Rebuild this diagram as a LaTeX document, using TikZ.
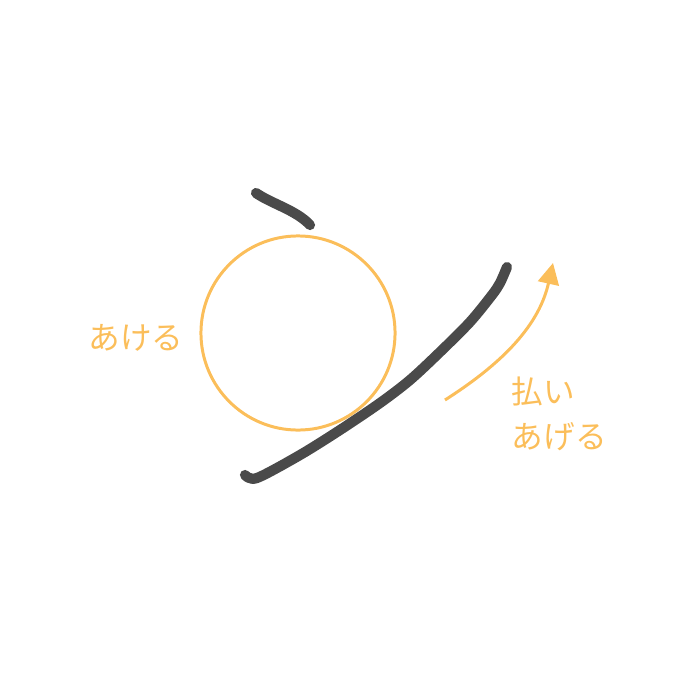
\documentclass[tikz,border=0pt]{standalone}
\usepackage{fontspec}
\newfontfamily\jpfont{Noto Sans CJK JP}
\usetikzlibrary{positioning,arrows.meta}
\definecolor{guide}{HTML}{FBBE5A}
\definecolor{ink}{HTML}{4A4A4A}

\begin{document}
\begin{tikzpicture}[x=0.01cm,y=-0.01cm,>={Triangle[length=6pt,width=6pt]},
  stroke/.style={draw=ink,line width=2.9pt,line cap=round,line join=round},
  label/.style={text=guide,font=\jpfont\fontsize{9}{12.8}\selectfont,inner sep=0pt,align=left}]
\useasboundingbox (0,0) rectangle (700,700);
\node[draw=guide,line width=0.85pt,circle,inner sep=0pt,minimum size=1.94cm] (hole) at (298,333) {};
% strokes
\draw[stroke] (256,193) .. controls (272,204) and (296,210) .. (310,225);
\draw[stroke] plot[smooth,tension=0.5] coordinates {(245,475) (257,478) (300,455) (340,430) (380,403) (410,380) (440,352) (470,322) (492,295) (500,283) (507,267)};
% sweep arrow
\coordinate (from) at (445,400);
\coordinate (to) at (553,263);
\draw[guide,line width=0.85pt,->] (from) .. controls (495,368) and (538,330) .. (to);
\node[label] (open) at (136,338) {あける};
\node[label,anchor=west] (sweep) at (511,414) {払い\\あげる};
\end{tikzpicture}
\end{document}
